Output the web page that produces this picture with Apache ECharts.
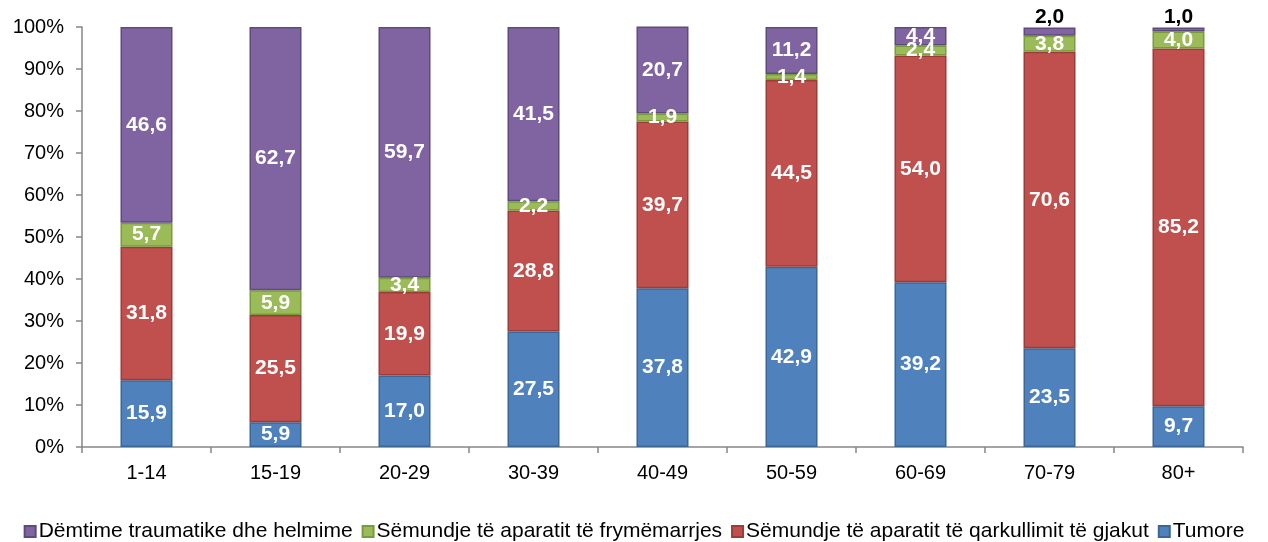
<!DOCTYPE html>
<html>
<head>
<meta charset="utf-8">
<script src="https://cdn.jsdelivr.net/npm/echarts@6/dist/echarts.min.js"></script>
<style>
  html, body { margin: 0; padding: 0; background: #fff; }
  #main { width: 1268px; height: 542px; }
</style>
</head>
<body>
<div id="main"></div>
<script>
// grupmoshat
var categories = ['1-14', '15-19', '20-29', '30-39', '40-49', '50-59', '60-69', '70-79', '80+'];

// perqindjet sipas shkakut
var tumore = [15.9, 5.9, 17.0, 27.5, 37.8, 42.9, 39.2, 23.5, 9.7];
var qarkullimi = [31.8, 25.5, 19.9, 28.8, 39.7, 44.5, 54.0, 70.6, 85.2];
var frymemarrja = [5.7, 5.9, 3.4, 2.2, 1.9, 1.4, 2.4, 3.8, 4.0];
var demtime = [46.6, 62.7, 59.7, 41.5, 20.7, 11.2, 4.4, 2.0, 1.0];

var yTicks = [0, 10, 20, 30, 40, 50, 60, 70, 80, 90, 100];

var names = [
  'Tumore',
  'Sëmundje të aparatit të qarkullimit të gjakut',
  'Sëmundje të aparatit të frymëmarrjes',
  'Dëmtime traumatike dhe helmime'
];

var chart = echarts.init(document.getElementById('main'));

function fmt(v) {
  return v.toFixed(1).replace('.', ',');
}

function labelInside() {
  return {
    show: true,
    position: 'inside',
    color: '#fff',
    fontFamily: 'Arial, Liberation Sans',
    fontWeight: 'bold',
    fontSize: 21,
    formatter: function (p) { return fmt(p.value); }
  };
}

function makeSeries(name, data, color, border) {
  return {
    name: name,
    type: 'bar',
    stack: 'total',
    barWidth: 52,
    data: data,
    itemStyle: {
      color: color,
      borderColor: border,
      borderWidth: 1.5
    },
    label: labelInside()
  };
}

// vlerat e vogla ne krye shfaqen mbi shtyllen me te zeze
var demtimeData = demtime.map(function (v) {
  if (v < 3) {
    return {
      value: v,
      label: { position: 'top', color: '#000', distance: 0 }
    };
  }
  return v;
});

var option = {
  animation: false,
  textStyle: { fontFamily: 'Arial, Liberation Sans' },
  grid: {
    left: 82,
    right: 25,
    top: 27,
    bottom: 95
  },
  legend: {
    top: 516,
    left: 'center',
    data: [names[3], names[2], names[1], names[0]],
    itemWidth: 11,
    itemHeight: 11,
    itemGap: 9,
    icon: 'rect',
    textStyle: {
      fontFamily: 'Arial, Liberation Sans',
      fontSize: 21,
      color: '#000',
      padding: [0, 0, 0, -2]
    }
  },
  xAxis: {
    type: 'category',
    data: categories,
    axisLine: { lineStyle: { color: '#868686', width: 1.5 } },
    axisTick: { show: true, length: 6, alignWithLabel: false, lineStyle: { color: '#868686', width: 1.5 } },
    axisLabel: {
      color: '#000',
      fontSize: 20,
      margin: 16
    }
  },
  yAxis: {
    type: 'value',
    min: 0,
    max: 100,
    interval: 10,
    axisLine: { show: true, lineStyle: { color: '#868686', width: 1.5 } },
    axisTick: { show: true, length: 6, lineStyle: { color: '#868686', width: 1.5 } },
    splitLine: { show: false },
    axisLabel: {
      color: '#000',
      fontSize: 20,
      margin: 18,
      formatter: function (v) { return yTicks.indexOf(v) >= 0 ? v + '%' : ''; }
    }
  },
  series: [
    makeSeries(names[0], tumore, '#4F81BD', '#3B6795'),
    makeSeries(names[1], qarkullimi, '#C0504D', '#9B3C39'),
    makeSeries(names[2], frymemarrja, '#9BBB59', '#7A9A3E'),
    makeSeries(names[3], demtimeData, '#8064A2', '#5F4A7D')
  ]
};

chart.setOption(option);
</script>
</body>
</html>
